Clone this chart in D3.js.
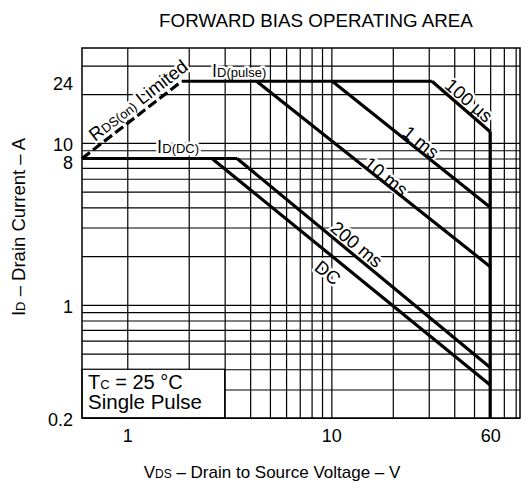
<!DOCTYPE html>
<html>
<head>
<meta charset="utf-8">
<script src="https://cdn.jsdelivr.net/npm/d3@7"></script>
<style>
  body { margin: 0; background: #fff; }
  svg { display: block; font-family: "Liberation Sans", Arial, Helvetica, sans-serif; }
  .halo { paint-order: stroke; stroke: #fff; stroke-width: 5px; stroke-linejoin: round; }
</style>
</head>
<body>
<svg id="chart"></svg>
<script>
/* -------- forward bias safe operating area -------- */

// grid lines and tick labels
let gridV = [1, 2, 3, 4, 5, 6, 7, 8, 9, 10, 20, 30, 40, 50, 60, 70, 80];
let gridH = [0.2, 0.3, 0.4, 0.5, 0.6, 0.7, 0.8, 0.9, 1, 2, 3, 4, 5, 6, 7, 8, 9, 10, 20, 30];
let xTicks = [1, 10, 60];
let yTicks = [0.2, 1, 8, 10, 24];

// limit lines, points are [VDS (V), ID (A)]
let rdsLimited = [[0.6, 8], [1.85, 24]];
let idPulse = [[1.85, 24], [31.1, 24]];
let idDC = [[0.6, 8], [3.45, 8]];
let vdssLimit = [[60, 11.7], [60, 0.2]];

// pulse width lines
let us100 = [[31.1, 24], [60, 11.7]];
let ms1 = [[10.1, 24], [60, 4.0]];
let ms10 = [[4.3, 24], [60, 1.72]];
let ms200 = [[3.45, 8], [60, 0.41]];
let dcLine = [[2.6, 8], [60, 0.32]];

let width = 526;
let height = 490;

let svg = d3.select("#chart")
    .attr("width", width)
    .attr("height", height);

let x = d3.scaleLog().domain([0.6, 84]).range([82, 520]);
let y = d3.scaleLog().domain([0.2, 38.5]).range([418, 48]);

let plotLeft = x.range()[0], plotRight = x.range()[1];
let plotBottom = y.range()[0], plotTop = y.range()[1];

// grid
svg.append("g")
    .attr("transform", `translate(0, ${plotBottom})`)
    .call(d3.axisBottom(x).tickValues(gridV).tickSize(-(plotBottom - plotTop)).tickFormat(""))
    .call(g => g.select(".domain").remove())
    .selectAll("line")
        .attr("stroke", "#000")
        .attr("stroke-width", 1.2);

svg.append("g")
    .attr("transform", `translate(${plotLeft}, 0)`)
    .call(d3.axisLeft(y).tickValues(gridH).tickSize(-(plotRight - plotLeft)).tickFormat(""))
    .call(g => g.select(".domain").remove())
    .selectAll("line")
        .attr("stroke", "#000")
        .attr("stroke-width", 1.2);

// tick labels
svg.append("g")
    .attr("transform", `translate(0, ${plotBottom})`)
    .call(d3.axisBottom(x).tickValues(xTicks).tickSize(0).tickPadding(11).tickFormat(d3.format("~g")))
    .call(g => g.select(".domain").remove())
    .selectAll("text")
        .attr("font-size", "18px")
        .attr("fill", "#000");

svg.append("g")
    .attr("transform", `translate(${plotLeft}, 0)`)
    .call(d3.axisLeft(y).tickValues(yTicks).tickSize(0).tickPadding(9).tickFormat(d3.format("~g")))
    .call(g => g.select(".domain").remove())
    .selectAll("text")
        .attr("font-size", "18px")
        .attr("fill", "#000")
        .attr("dy", d => d === 8 ? "0.57em" : "0.44em");

svg.selectAll("g").attr("font-family", null).attr("font-size", null);

// Tc box
svg.append("rect")
    .attr("x", x(0.6))
    .attr("y", y(0.4))
    .attr("width", x(3) - x(0.6))
    .attr("height", y(0.2) - y(0.4))
    .attr("fill", "#fff")
    .attr("stroke", "#000")
    .attr("stroke-width", 1.2);

let tc = svg.append("text")
    .attr("x", plotLeft + 6)
    .attr("y", y(0.4) + 20)
    .attr("font-size", "20px");
tc.append("tspan").text("T");
tc.append("tspan").attr("font-size", "13px").text("C");
tc.append("tspan").text(" = 25 °C");

svg.append("text")
    .attr("x", plotLeft + 6)
    .attr("y", y(0.4) + 40)
    .attr("font-size", "20.5px")
    .text("Single Pulse");

// labels, white halo breaks the grid behind them
function angle(seg) {
    let a = seg[0], b = seg[seg.length - 1];
    return Math.atan2(y(b[1]) - y(a[1]), x(b[0]) - x(a[0])) * 180 / Math.PI;
}

function label(parts, vx, vy, rot, anchor, dy) {
    let t = svg.append("text")
        .attr("class", "halo")
        .attr("transform", `translate(${x(vx)}, ${y(vy)}) rotate(${rot})`)
        .attr("text-anchor", anchor)
        .attr("dy", dy)
        .attr("font-size", "18.5px");
    parts.forEach(p => {
        t.append("tspan")
            .attr("font-size", p[1] ? "13px" : null)
            .text(p[0]);
    });
}

label([["R"], ["DS(on)", 1], [" Limited"]], 1.13, 18.3, angle(rdsLimited), "middle", "0.35em");
label([["I"], ["D(pulse)", 1]], 2.6, 24, 0, "start", "-4");
label([["I"], ["D(DC)", 1]], 1.4, 8, 0, "start", "-5.5");
label([["100 µs"]], 47.2, 18.3, angle(us100), "middle", "0.35em");
label([["1 ms"]], 27.5, 10.1, angle(ms1), "middle", "0.35em");
label([["10 ms"]], 18.5, 6.2, angle(ms10), "middle", "0.35em");
label([["200 ms"]], 13.3, 2.36, angle(ms200), "middle", "0.35em");
label([["DC"]], 9.6, 1.58, angle(dcLine), "middle", "0.35em");

// curves
let line = d3.line()
    .x(d => x(d[0]))
    .y(d => y(d[1]));

svg.append("g")
    .selectAll("path")
    .data([idPulse, idDC, vdssLimit, us100, ms1, ms10, ms200, dcLine])
    .join("path")
        .attr("d", line)
        .attr("fill", "none")
        .attr("stroke", "#000")
        .attr("stroke-width", 3.2);

svg.append("path")
    .attr("d", line(rdsLimited))
    .attr("fill", "none")
    .attr("stroke", "#000")
    .attr("stroke-width", 3.2)
    .attr("stroke-dasharray", "10,4");

// frame
svg.append("rect")
    .attr("x", plotLeft)
    .attr("y", plotTop)
    .attr("width", plotRight - plotLeft)
    .attr("height", plotBottom - plotTop)
    .attr("fill", "none")
    .attr("stroke", "#000")
    .attr("stroke-width", 1.5);

// titles
svg.append("text")
    .attr("x", 316)
    .attr("y", 27)
    .attr("text-anchor", "middle")
    .attr("font-size", "18.8px")
    .text("FORWARD BIAS OPERATING AREA");

let xt = svg.append("text")
    .attr("x", 272)
    .attr("y", 478)
    .attr("text-anchor", "middle")
    .attr("font-size", "17px");
xt.append("tspan").text("V");
xt.append("tspan").attr("font-size", "12px").text("DS");
xt.append("tspan").text(" – Drain to Source Voltage – V");

let yt = svg.append("text")
    .attr("transform", "translate(25, 227) rotate(-90)")
    .attr("text-anchor", "middle")
    .attr("font-size", "18.5px");
yt.append("tspan").text("I");
yt.append("tspan").attr("font-size", "13px").text("D");
yt.append("tspan").text(" – Drain Current – A");
</script>
</body>
</html>
